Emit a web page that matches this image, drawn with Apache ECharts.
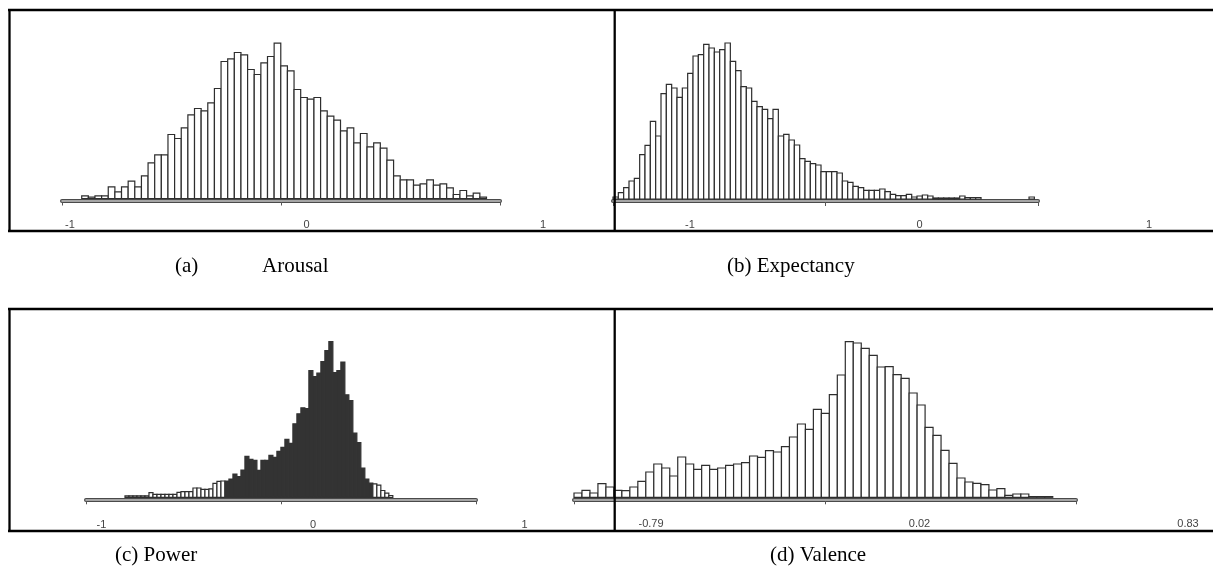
<!DOCTYPE html>
<html><head><meta charset="utf-8">
<script src="https://cdn.jsdelivr.net/npm/echarts@6/dist/echarts.min.js"></script>
<style>html,body{margin:0;padding:0;background:#fff}#chart{width:1215px;height:573px}</style>
</head><body><div id="chart"></div>
<script>
// ---------------- data ----------------
const arousalTickLabels = ['-1', '0', '1'];
const arousalBinStart = -0.91;
const arousalBinWidth = 0.0303;
const arousalCounts = [2.7,1.3,2.7,2.7,11.7,6.7,11.7,17.3,11.7,22.7,35.7,43.7,43.7,64,60,70.7,83.7,90,87.7,95.7,
  110,137,139.7,146,143.7,129,124,135.7,142,155.3,132.7,127.7,109,101,99.3,101,87.7,82.3,78.3,67.7,
  70.7,55.7,65,51.7,55.7,50.3,38.3,22.7,18.7,18.7,13.3,14.7,18.7,13.3,14.7,10.7,4,8,2.7,5.3,1.3];

const expectancyTickLabels = ['-1', '0', '1'];
const expectancyBinStart = -1;
const expectancyBinWidth = 0.0251;
const expectancyCounts = [2,6.3,11.3,18,20.7,44.3,53.7,77.7,63,105.3,114.7,111,101.7,111,125.7,143,144.3,154.7,151,147,
  149.3,156,137.7,128.3,112.3,111,97.7,92.3,89.7,80.3,89.7,63,64.7,59,54,40.3,37.7,35.3,34,27.3,
  27.3,27.3,26,18,16.7,12.7,11.3,8.7,8.7,8.7,10,7.3,4.7,3.3,3.3,4.7,2,3,4,3,
  1,1,1,1,1,3,1.5,1.5,1.5,0,0,0,0,0,0,0,0,0,2];

const powerTickLabels = ['-1', '0', '1'];
const powerBinStart = -0.8;
const powerBinWidth = 0.0205;
const powerCounts = [1.5,1.5,1.5,1.5,1.5,1.5,4.7,3,3,3,3,3,3,5,5.7,5.7,5.7,9.3,9.3,8,
  8,8.5,14,16,16.3,16.3,18.3,23.3,20.7,27.3,41,38,37,27,37,37,42,40,46,50,
  58,54,73.5,83.5,89.5,88.8,126.8,120.8,124.2,135.8,146.8,155.8,124.8,126.8,135.2,102.5,96.8,64.2,54.8,29.2,
  18.2,14.2,13.5,12.2,6.8,4.2,1.8];
const powerSelectedBins = [25, 61]; // first and last bin index of the shaded selection

const valenceTickLabels = ['-0.79', '0.02', '0.83'];
const valenceMin = -0.79, valenceMax = 0.83;
const valenceBinStart = -0.79;
const valenceBinWidth = 0.02575;
const valenceCounts = [4.3,7,4.3,13.7,10.3,7,6.7,10.3,16,25.3,33.3,29.3,21.3,40.3,33.3,28,32,28,29.3,32,
  33.3,34.7,41.3,40,46.7,45.3,50.7,60.3,73.3,68,88,84,102.7,122.3,155.7,154.3,149,142,130.3,130.7,
  122.7,119,104.3,92.3,70,62,47,34,19.3,15.3,14,12.7,7.3,8.7,2,3.3,3.3,0.7,0.7,0.7];

const captions = [
  {text: '(a)', x: 175, y: 256},
  {text: 'Arousal', x: 262, y: 256},
  {text: '(b) Expectancy', x: 727, y: 256},
  {text: '(c) Power', x: 115, y: 545},
  {text: '(d) Valence', x: 770, y: 545}
];

// ---------------- layout ----------------
const H = 170;
const panels = [
  {counts: arousalCounts, start: arousalBinStart, width: arousalBinWidth, min: -1, max: 1, ticks: arousalTickLabels,
   axisPx: [62, 500], baseline: 198.5, labelPx: [70, 543], labelY: 218, sel: null},
  {counts: expectancyCounts, start: expectancyBinStart, width: expectancyBinWidth, min: -1, max: 1, ticks: expectancyTickLabels,
   axisPx: [613, 1038], baseline: 199, labelPx: [690, 1149], labelY: 218, sel: null},
  {counts: powerCounts, start: powerBinStart, width: powerBinWidth, min: -1, max: 1, ticks: powerTickLabels,
   axisPx: [86, 476], baseline: 497.3, labelPx: [101.5, 524.5], labelY: 518, sel: powerSelectedBins},
  {counts: valenceCounts, start: valenceBinStart, width: valenceBinWidth, min: valenceMin, max: valenceMax, ticks: valenceTickLabels,
   axisPx: [574, 1076], baseline: 497.3, labelPx: [651, 1188], labelY: 517, sel: null}
];

const grid = [], xAxis = [], yAxis = [], series = [];
panels.forEach((p, i) => {
  const gh = grid.length;
  grid.push({left: p.axisPx[0], width: p.axisPx[1] - p.axisPx[0], top: p.baseline - H, height: H});
  const gl = grid.length;
  grid.push({left: p.labelPx[0], width: p.labelPx[1] - p.labelPx[0], top: p.labelY - 10, height: 10});

  const xv = xAxis.length;
  xAxis.push({type: 'value', gridIndex: gh, min: p.min, max: p.max, show: false, position: 'bottom'});
  xAxis.push({type: 'category', gridIndex: gh, data: p.ticks, boundaryGap: false, position: 'bottom', offset: 2, z: 1,
    axisLine: {onZero: false, lineStyle: {color: '#4a4a4a', width: 4}},
    axisTick: {show: true, interval: 0, length: 5, lineStyle: {color: '#555', width: 1}},
    axisLabel: {show: false}, splitLine: {show: false}});
  xAxis.push({type: 'category', gridIndex: gh, data: p.ticks, boundaryGap: false, position: 'bottom', offset: 2, z: 2,
    axisLine: {onZero: false, lineStyle: {color: '#c4c4c4', width: 1.6}},
    axisTick: {show: false}, axisLabel: {show: false}, splitLine: {show: false}});
  xAxis.push({type: 'category', gridIndex: gl, data: p.ticks, boundaryGap: false, position: 'bottom',
    axisLine: {show: false, onZero: false}, axisTick: {show: false}, splitLine: {show: false},
    axisLabel: {interval: 0, margin: 1, fontSize: 11, color: '#444', fontFamily: 'Liberation Sans'}});

  const yv = yAxis.length;
  yAxis.push({type: 'value', gridIndex: gh, min: 0, max: H, show: false});
  yAxis.push({type: 'value', gridIndex: gl, min: 0, max: 1, show: false});

  const data = p.counts.map((c, k) => [p.start + k * p.width, p.start + (k + 1) * p.width, c,
    (p.sel && k >= p.sel[0] && k <= p.sel[1]) ? 1 : 0]);
  series.push({
    type: 'custom', xAxisIndex: xv, yAxisIndex: yv, data: data, clip: false, z: 3,
    encode: {x: [0, 1], y: 2},
    renderItem: function (params, api) {
      const h = api.value(2);
      if (!(h > 0)) return null;
      const p0 = api.coord([api.value(0), 0]);
      const p1 = api.coord([api.value(1), h]);
      const dark = api.value(3) === 1;
      return {type: 'rect',
        shape: {x: p0[0], y: p1[1], width: p1[0] - p0[0], height: p0[1] - p1[1]},
        style: {fill: dark ? '#333333' : '#ffffff', stroke: dark ? '#333333' : '#2e2e2e', lineWidth: 1.2}};
    }
  });
});

const frameLines = [
  [8, 10, 1213, 10], [8, 231, 1213, 231], [9.5, 9, 9.5, 232], [614.7, 9, 614.7, 232],
  [8, 309, 1213, 309], [8, 531, 1213, 531], [9.5, 308, 9.5, 532], [614.7, 308, 614.7, 532]
];
const graphic = frameLines.map(l => ({type: 'line', z: 100,
  shape: {x1: l[0], y1: l[1], x2: l[2], y2: l[3]}, style: {stroke: '#000', lineWidth: 2.3}}))
  .concat(captions.map(c => ({type: 'text', x: c.x, y: c.y, z: 100,
    style: {text: c.text, font: '21px "Liberation Serif"', fill: '#000', verticalAlign: 'top'}})));

const chart = echarts.init(document.getElementById('chart'), null, {renderer: 'canvas'});
chart.setOption({animation: false, backgroundColor: '#fff', grid, xAxis, yAxis, series, graphic});
</script></body></html>
